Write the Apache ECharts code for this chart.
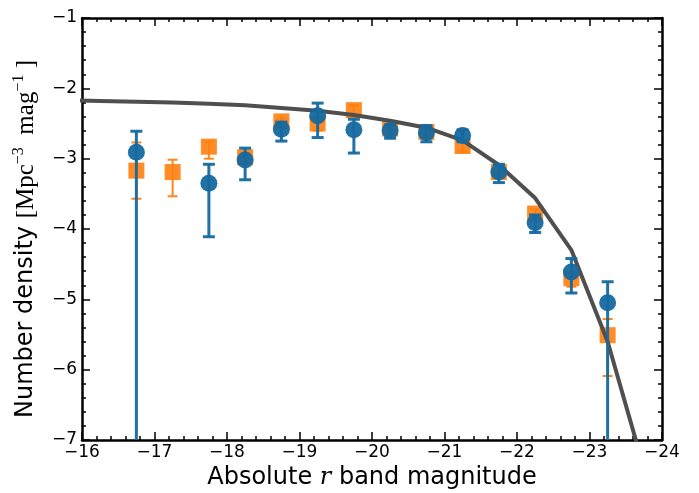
<!DOCTYPE html>
<html>
<head>
<meta charset="utf-8">
<script src="https://cdn.jsdelivr.net/npm/echarts@6/dist/echarts.min.js"></script>
<style>
  html, body { margin: 0; padding: 0; background: #fff; }
  #main { width: 699px; height: 493px; }
</style>
</head>
<body>
<div id="main"></div>
<script>
// magnitude bins (bin centres)
let mags = [-16.75, -17.25, -17.75, -18.25, -18.75, -19.25, -19.75,
            -20.25, -20.75, -21.25, -21.75, -22.25, -22.75, -23.25];

// blue sample: value, upper and lower error ends (null = no point)
let blueVal = [-2.91, null, -3.35, -3.02, -2.58, -2.39, -2.59,
               -2.60, -2.63, -2.67, -3.19, -3.91, -4.61, -5.05];
let blueHi  = [-2.61, null, -3.08, -2.85, -2.48, -2.21, -2.44,
               -2.52, -2.53, -2.59, -3.08, -3.80, -4.42, -4.75];
let blueLo  = [-9.00, null, -4.11, -3.30, -2.75, -2.70, -2.92,
               -2.71, -2.76, -2.76, -3.34, -4.05, -4.91, -9.00];

// orange sample
let orangeVal = [-3.17, -3.19, -2.83, -2.98, -2.47, -2.50, -2.31,
                 -2.57, -2.62, -2.82, -3.19, -3.78, -4.70, -5.51];
let orangeHi  = [-2.77, -3.015, -2.76, -2.92, -2.43, -2.43, -2.24,
                 -2.52, -2.57, -2.76, -3.13, -3.72, -4.62, -5.28];
let orangeLo  = [-3.57, -3.535, -3.00, -3.05, -2.55, -2.60, -2.41,
                 -2.63, -2.68, -2.90, -3.26, -3.86, -4.82, -6.09];

// fitted curve
let modelMags = [-15.75, -16.25, -16.75, -17.25, -17.75, -18.25, -18.75, -19.25, -19.75,
                 -20.25, -20.75, -21.25, -21.75, -22.25, -22.75, -23.25, -23.75];
let modelVals = [-2.17, -2.18, -2.19, -2.20, -2.22, -2.24, -2.28, -2.32, -2.38,
                 -2.46, -2.56, -2.74, -3.09, -3.56, -4.30, -5.60, -7.40];

let Y_MIN = -7, Y_MAX = -1;

function pts(vals) {
  let out = [];
  mags.forEach(function (m, i) {
    if (vals[i] !== null) out.push([m, vals[i]]);
  });
  return out;
}

function bars(lo, hi) {
  let out = [];
  mags.forEach(function (m, i) {
    if (lo[i] !== null) out.push([m, lo[i], hi[i]]);
  });
  return out;
}

function errRender(color, width, cap) {
  return function (params, api) {
    let x = api.value(0), lo = api.value(1), hi = api.value(2);
    let top = api.coord([x, Math.min(hi, Y_MAX)]);
    let bot = api.coord([x, Math.max(lo, Y_MIN)]);
    let style = {stroke: color, lineWidth: width, opacity: 0.95};
    let kids = [{type: 'line', shape: {x1: top[0], y1: top[1], x2: bot[0], y2: bot[1]}, style: style}];
    if (hi <= Y_MAX) kids.push({type: 'line', shape: {x1: top[0] - cap, y1: top[1], x2: top[0] + cap, y2: top[1]}, style: style});
    if (lo >= Y_MIN) kids.push({type: 'line', shape: {x1: bot[0] - cap, y1: bot[1], x2: bot[0] + cap, y2: bot[1]}, style: style});
    return {type: 'group', children: kids};
  };
}

function minus(v) {
  return (v < 0 ? '\u2212' : '') + Math.abs(v);
}

let blue = '#16699f';
let orange = '#ff7f0e';

function xAx(pos, labels) {
  return {
    type: 'value', position: pos, min: -24, max: -16, interval: 1, inverse: true,
    axisLine: {show: true, onZero: false, lineStyle: {color: '#000', width: 2.5}},
    axisTick: {show: true, inside: true, length: 8, lineStyle: {color: '#000', width: 1.5}},
    minorTick: {show: true, splitNumber: 5, length: 4, lineStyle: {color: '#000', width: 1.5}},
    splitLine: {show: false},
    axisLabel: {show: labels, formatter: minus, color: '#000', fontSize: 17,
                fontFamily: 'DejaVu Sans', margin: 4}
  };
}

function yAx(pos, labels) {
  return {
    type: 'value', position: pos, min: Y_MIN, max: Y_MAX, interval: 1,
    axisLine: {show: true, onZero: false, lineStyle: {color: '#000', width: 2.5}},
    axisTick: {show: true, inside: true, length: 8, lineStyle: {color: '#000', width: 1.5}},
    minorTick: {show: true, splitNumber: 5, length: 4, lineStyle: {color: '#000', width: 1.5}},
    splitLine: {show: false},
    axisLabel: {show: labels, formatter: minus, color: '#000', fontSize: 17,
                fontFamily: 'DejaVu Sans', margin: 5}
  };
}

let xBottom = xAx('bottom', true);
xBottom.name = '{s|Absolute }{i|r}{s| band magnitude}';
xBottom.nameLocation = 'middle';
xBottom.nameGap = 24;
xBottom.nameTextStyle = {
  rich: {
    s: {fontFamily: 'DejaVu Sans', fontSize: 24, color: '#000'},
    i: {fontFamily: 'DejaVu Serif', fontStyle: 'italic', fontSize: 24, color: '#000'}
  }
};

let yLeft = yAx('left', true);
yLeft.name = '{s|Number density }{m|[Mpc}{p|\u22123}{m|  mag}{p|\u22121}{m| ]}';
yLeft.nameLocation = 'middle';
yLeft.nameRotate = 90;
yLeft.nameGap = 41;
yLeft.nameTextStyle = {
  padding: [0, 20, 0, 0],
  rich: {
    s: {fontFamily: 'DejaVu Sans', fontSize: 24, color: '#000', lineHeight: 30},
    m: {fontFamily: 'Liberation Serif', fontSize: 25, color: '#000', lineHeight: 30},
    p: {fontFamily: 'Liberation Serif', fontSize: 16, color: '#000', verticalAlign: 'top', lineHeight: 30}
  }
};

let option = {
  animation: false,
  backgroundColor: '#fff',
  grid: {left: 82, right: 37, top: 18, bottom: 53, outerBoundsMode: 'none', containLabel: false},
  xAxis: [xBottom, xAx('top', false)],
  yAxis: [yLeft, yAx('right', false)],
  series: [
    {
      type: 'custom', z: 2,
      renderItem: errRender(orange, 2, 5),
      encode: {x: 0, y: [1, 2]},
      data: bars(orangeLo, orangeHi)
    },
    {
      type: 'scatter', z: 3,
      symbol: 'rect', symbolSize: 16,
      itemStyle: {color: orange, opacity: 0.9},
      data: pts(orangeVal)
    },
    {
      type: 'line', z: 4,
      showSymbol: false, symbol: 'none',
      lineStyle: {color: '#4f4f4f', width: 4},
      data: modelMags.map(function (m, i) { return [m, modelVals[i]]; })
    },
    {
      type: 'custom', z: 5,
      renderItem: errRender(blue, 3, 6),
      encode: {x: 0, y: [1, 2]},
      data: bars(blueLo, blueHi)
    },
    {
      type: 'scatter', z: 6,
      symbol: 'circle', symbolSize: 17,
      itemStyle: {color: blue, opacity: 0.95},
      data: pts(blueVal)
    }
  ]
};

let myChart = echarts.init(document.getElementById('main'));
myChart.setOption(option);
</script>
</body>
</html>
